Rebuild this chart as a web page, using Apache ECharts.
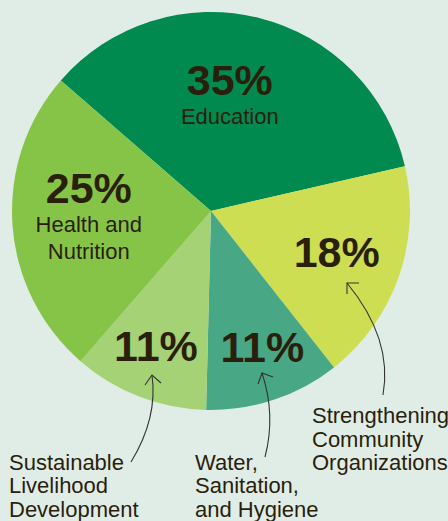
<!DOCTYPE html>
<html>
<head>
<meta charset="utf-8">
<script src="https://cdn.jsdelivr.net/npm/echarts@6/dist/echarts.min.js"></script>
<style>
  html, body { margin: 0; padding: 0; background: #E0EDE6; }
  #chart { width: 448px; height: 521px; }
</style>
</head>
<body>
<div id="chart"></div>
<script>
// ---- data ----
const categories = ['Education', 'Strengthening Community Organizations', 'Water, Sanitation, and Hygiene', 'Sustainable Livelihood Development', 'Health and Nutrition'];
const values = [35, 18, 11, 11, 25];
const colors = ['#008A50', '#CEDE53', '#48A784', '#A4D274', '#86C447'];
// label text (line breaks as in the reference)
const innerNames = ['Education', '', '', '', 'Health and\nNutrition'];
const outerNames = ['', 'Strengthening\nCommunity\nOrganizations', 'Water,\nSanitation,\nand Hygiene', 'Sustainable\nLivelihood\nDevelopment', ''];

// ---- styling / placement ----
const innerShift = [[-6, -18], [29, 7], [19, 38.5], [-18, 39.5], [-20, -3.5]];
const outerPos = [null, [312, 404], [195, 450.5], [9, 450.5], null];
const TEXT = '#2A1E0C';
const FONT = '"Liberation Sans", Arial, sans-serif';

const chart = echarts.init(document.getElementById('chart'), null, { renderer: 'svg' });

const baseData = categories.map((c, i) => ({ name: c, value: values[i], itemStyle: { color: colors[i] } }));

const arrowStyle = { stroke: '#333', lineWidth: 1.1, fill: null };
function arrow(x1, y1, cx, cy, x2, y2, head) {
  return [
    { type: 'bezierCurve', silent: true, z: 100, zlevel: 0, shape: { x1: x1, y1: y1, cpx1: cx, cpy1: cy, x2: x2, y2: y2 }, style: arrowStyle },
    { type: 'polyline', silent: true, z: 100, zlevel: 0, shape: { points: head }, style: arrowStyle }
  ];
}

const option = {
  backgroundColor: '#E0EDE6',
  animation: false,
  series: [
    {
      type: 'pie',
      center: [211, 211],
      radius: [0, 199],
      startAngle: 139,
      clockwise: true,
      avoidLabelOverlap: false,
      silent: true,
      z: 1,
      itemStyle: { borderWidth: 0 },
      data: baseData,
      label: {
        show: true,
        position: 'inside',
        fontFamily: FONT,
        color: TEXT,
        formatter: p => {
          const nm = innerNames[p.dataIndex];
          let s = '{pct|' + p.value + '%}';
          if (nm) s += '\n' + nm.split('\n').map(l => '{nm|' + l + '}').join('\n');
          return s;
        },
        rich: {
          pct: { fontSize: 43, fontWeight: 'bold', lineHeight: 46, color: TEXT, fontFamily: FONT, align: 'center' },
          nm: { fontSize: 22, lineHeight: 27, color: TEXT, fontFamily: FONT, align: 'center' }
        }
      },
      labelLine: { show: false },
      labelLayout: p => ({ dx: innerShift[p.dataIndex][0], dy: innerShift[p.dataIndex][1] })
    },
    {
      type: 'pie',
      center: [211, 211],
      radius: [0, 199],
      startAngle: 139,
      clockwise: true,
      avoidLabelOverlap: false,
      silent: true,
      z: 1,
      itemStyle: { color: 'rgba(0,0,0,0)', borderWidth: 0 },
      data: baseData.map((d, i) => ({
        name: d.name, value: d.value,
        itemStyle: { color: 'rgba(0,0,0,0)' },
        label: { show: !!outerNames[i] }
      })),
      label: {
        position: 'inside',
        fontFamily: FONT,
        fontSize: 22,
        lineHeight: 23.5,
        color: TEXT,
        align: 'left',
        formatter: p => outerNames[p.dataIndex]
      },
      labelLine: { show: false },
      labelLayout: p => {
        const pos = outerPos[p.dataIndex];
        if (!pos) return {};
        return { x: pos[0], y: pos[1], align: 'left', verticalAlign: 'top' };
      }
    }
  ],
  graphic: {
    elements: [].concat(
      arrow(383, 395, 393, 339, 347, 283, [[347, 294], [347, 283], [359, 283]]),
      arrow(265, 457, 276, 415, 262, 373, [[258, 384], [262, 373], [273, 377]]),
      arrow(131, 462, 158, 418, 152, 375, [[145, 385], [152, 375], [161, 383]])
    )
  }
};
chart.setOption(option);
</script>
</body>
</html>
